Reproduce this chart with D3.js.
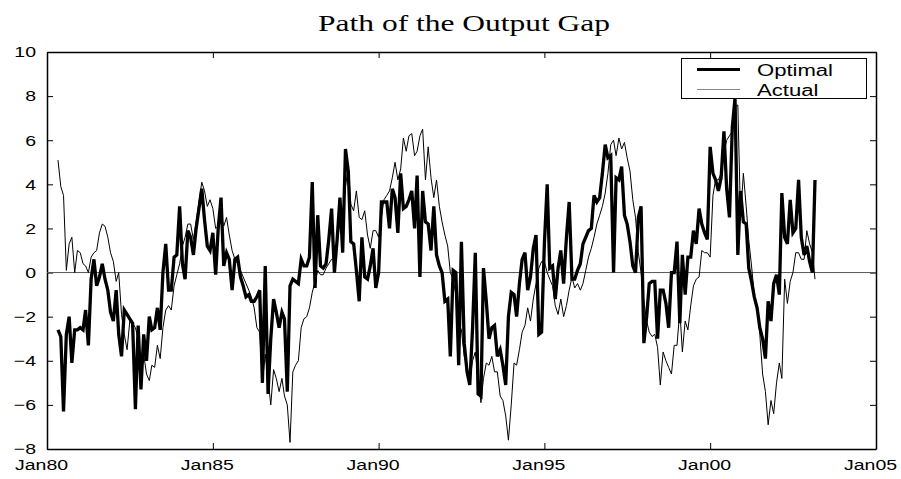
<!DOCTYPE html>
<html>
<head>
<meta charset="utf-8">
<script src="https://cdn.jsdelivr.net/npm/d3@7"></script>
<style>
  body { margin: 0; background: #fff; }
  #container { width: 901px; height: 479px; }
</style>
</head>
<body>
<div id="container"></div>
<script>
/* DATA (monthly, first value = May 1980) */
const firstMonth = "1980-05";

const optimal = [
  -2.6, -2.9, -6.3, -2.8, -2.0, -4.1, -2.6, -2.6,                 // 1980
  -2.5, -2.6, -1.7, -3.3, -0.3, 0.6, -0.6, -0.2, 0.4, -0.3, -0.8, -1.8, // 1981
  -2.2, -0.8, -2.8, -3.8, -1.7, -1.9, -2.1, -2.3, -6.2, -2.4, -5.3, -2.8, // 1982
  -4.0, -2.0, -2.6, -2.5, -1.6, -2.6, 0.0, 1.3, -0.8, -0.8, 0.7, 0.8,     // 1983
  3.0, 0.4, -0.3, 1.9, 1.6, 0.8, 2.0, 2.9, 3.8, 2.4, 1.2, 1.0,           // 1984
  1.8, -0.1, 2.0, 3.4, 0.3, 0.9, 0.6, -0.8, 0.6, 0.7, -0.2, -0.6,        // 1985
  -1.1, -1.0, -1.3, -1.3, -1.1, -0.8, -5.0, 0.3, -5.5, -3.0, -1.2, -1.8, // 1986
  -2.5, -1.8, -2.1, -5.4, -0.6, -0.3, -0.4, -0.5, 0.6, 0.3, 0.3, 0.7,    // 1987
  4.1, -0.7, 2.6, 0.3, 0.2, 0.4, 1.5, 2.9, 0.0, 1.5, 3.4, 0.9,           // 1988
  5.6, 4.6, 1.4, 1.3, 0.1, -1.3, 1.6, -0.2, -0.3, 0.3, 1.1, -0.7,        // 1989
  0.0, 3.2, 3.2, 3.2, 2.0, 3.8, 3.4, 1.8, 4.5, 2.9, 3.0, 3.3,            // 1990
  3.7, 2.0, 4.4, -0.2, 3.7, 2.3, 2.2, 1.0, 3.0, 0.8, 0.3, 0.0,           // 1991
  -1.3, -1.2, -3.8, 0.1, 0.0, -4.2, 1.4, -3.2, -4.5, -5.1, -2.5, 0.9,    // 1992
  -5.5, -5.6, 0.2, -1.3, -3.0, -2.5, -2.4, -3.8, -3.5, -4.2, -5.1, -2.0, // 1993
  -0.9, -1.0, -2.0, -0.5, 0.6, 0.9, -0.8, -0.2, 1.1, 1.7, -2.8, -2.7,    // 1994
  1.3, 4.0, 0.2, 0.3, -1.2, 0.2, 1.0, -0.5, 1.6, 3.2, -0.3, -0.3,        // 1995
  0.1, 0.4, 1.3, 1.6, 1.9, 2.0, 3.5, 3.2, 3.4, 4.5, 5.8, 5.2,            // 1996
  5.3, 0.0, 4.3, 4.2, 4.8, 2.6, 2.2, 1.4, 0.3, 0.0, 2.5, 3.0,            // 1997
  -3.2, -2.0, -0.5, -0.4, -0.4, -3.0, -0.8, -0.8, -1.4, -2.5, 0.0, 0.0,  // 1998
  1.4, -2.3, 0.8, -1.0, 0.7, 0.7, 1.9, 1.3, 2.9, 2.2, 1.8, 1.5,          // 1999
  5.7, 4.5, 4.2, 3.7, 4.3, 6.4, 3.8, 2.5, 6.6, 7.9, 0.8, 3.7,            // 2000
  2.3, 2.2, 0.2, -0.4, -1.1, -1.6, -2.5, -3.0, -3.9, -1.3, -2.2, -0.5,   // 2001
  -0.1, -1.0, 3.6, 1.6, 1.3, 3.3, 1.8, 2.0, 4.2, 1.6, 0.8, 1.2,          // 2002
  0.5, 0.0, 4.2                                                          // 2003
];

const actual = [
  5.1, 3.9, 3.5, 0.1, 1.3, 1.6, 0.0, 1.0,                                // 1980
  0.9, 0.4, 0.3, 0.0, 0.7, 0.9, 1.0, 1.8, 2.2, 2.1, 1.6, 0.9,            // 1981
  0.5, -0.4, 0.0, -1.9, -2.8, -3.5, -2.2, -2.3, -2.5, -3.0, -4.2, -3.7,  // 1982
  -4.6, -4.9, -4.2, -4.3, -3.3, -3.9, -2.5, -1.7, -1.5, -1.7, -0.6, -0.1, // 1983
  0.4, 1.2, 1.6, 2.2, 2.2, 1.5, 2.3, 3.2, 4.1, 3.7, 3.0, 3.3,            // 1984
  2.9, 2.0, 2.1, 2.6, 2.1, 2.5, 1.7, 1.0, 0.6, 0.4, 0.1, -0.2,           // 1985
  -0.5, -0.8, -1.1, -1.6, -2.5, -2.7, -5.0, -3.7, -4.8, -6.0, -4.4, -4.8, // 1986
  -5.4, -4.8, -5.6, -6.0, -7.7, -4.5, -4.2, -4.0, -2.5, -2.1, -2.0, -1.6, // 1987
  -0.9, -0.4, 0.1, -0.1, -0.1, 0.2, 0.4, 0.6, 0.6, 1.3, 2.3, 2.7,        // 1988
  3.9, 4.8, 3.1, 2.8, 3.7, 2.5, 2.4, 2.8, 1.7, 1.1, 1.9, 1.9,            // 1989
  1.6, 2.5, 3.3, 3.5, 3.7, 4.3, 5.0, 4.2, 4.7, 6.1, 5.5, 6.2,            // 1990
  6.3, 5.3, 5.5, 6.2, 6.5, 4.2, 5.7, 4.3, 3.4, 4.2, 3.0, 2.3,            // 1991
  1.7, 1.2, 0.0, -0.3, -1.0, -2.3, -2.6, -3.8, -4.3, -4.9, -4.0, -3.6,   // 1992
  -4.8, -5.9, -4.8, -4.1, -4.2, -3.8, -4.5, -4.5, -5.6, -5.8, -6.5, -7.6, // 1993
  -6.0, -4.1, -4.2, -3.5, -2.7, -2.4, -1.6, -2.2, -1.2, -0.5, 0.2, 0.5,  // 1994
  0.5, 0.0, -0.3, -0.6, -1.5, -1.9, -1.2, -2.0, -1.5, -0.8, -0.2, -0.7,  // 1995
  -0.5, -0.8, -0.5, 0.1, 0.7, 1.1, 1.6, 2.2, 2.6, 3.0, 3.6, 4.5,         // 1996
  5.8, 6.0, 5.3, 6.1, 5.6, 5.9, 5.2, 4.6, 3.3, 2.5, 0.9, 0.0,            // 1997
  -1.3, -2.2, -2.7, -2.9, -2.8, -3.4, -5.1, -3.6, -4.0, -4.3, -4.6, -3.3, // 1998
  -3.3, -1.7, -3.6, -2.2, -2.6, -1.5, -0.6, -0.3, -0.2, 1.0, 0.9, 0.9,   // 1999
  0.7, 3.5, 4.2, 4.2, 4.5, 5.4, 6.0, 6.2, 6.4, 7.5, 7.6, 2.5,            // 2000
  4.5, 3.0, 1.5, 0.3, -1.0, -1.5, -2.8, -4.6, -5.4, -6.9, -5.8, -6.4,    // 2001
  -5.0, -4.1, -4.8, -0.3, -1.4, -0.4, 0.0, 0.9, 0.9, 0.6, 0.6, 1.9,      // 2002
  1.3, 0.9, -0.3                                                         // 2003
];

const xTickYears = [1980, 1985, 1990, 1995, 2000, 2005];
const xTickLabels = ["Jan80", "Jan85", "Jan90", "Jan95", "Jan00", "Jan05"];
const yTickValues = [-8, -6, -4, -2, 0, 2, 4, 6, 8, 10];
const seriesNames = ["Optimal", "Actual"];

/* CONSTANTS */
const width = 901, height = 479;
const plot = { left: 47, right: 876, top: 52, bottom: 449 };
const sx = 1.3; // text in the figure is stretched sideways

const parseMonth = d3.timeParse("%Y-%m");
const start = parseMonth(firstMonth);
const dates = optimal.map((d, i) => d3.timeMonth.offset(start, i));
const tickDates = xTickYears.map(y => new Date(y, 0, 1));

const svg = d3.select("#container").append("svg")
  .attr("width", width)
  .attr("height", height);

/* SCALES */
const xScale = d3.scaleTime()
  .domain([tickDates[0], tickDates[tickDates.length - 1]])
  .range([plot.left, plot.right]);

const yScale = d3.scaleLinear()
  .domain([-8, 10])
  .range([plot.bottom, plot.top]);

/* AXES */
function styleAxis(g) {
  g.attr("font-family", "'Liberation Sans', Arial, sans-serif")
    .attr("font-size", 15);
  g.select(".domain").attr("stroke", "#000").attr("stroke-width", 1.5);
  g.selectAll(".tick line").attr("stroke", "#000").attr("stroke-width", 1);
  g.selectAll(".tick text").attr("fill", "#000");
}

svg.append("g")
  .attr("transform", `translate(0,${plot.bottom})`)
  .call(d3.axisBottom(xScale).tickValues(tickDates).tickSize(-6).tickSizeOuter(0)
    .tickPadding(10).tickFormat((d, i) => xTickLabels[i]))
  .call(styleAxis)
  .call(g => g.selectAll(".tick text")
    .attr("x", -6 / sx)
    .attr("transform", `scale(${sx},1)`));

svg.append("g")
  .attr("transform", `translate(0,${plot.top})`)
  .call(d3.axisTop(xScale).tickValues(tickDates).tickSize(-6).tickSizeOuter(0).tickFormat(""))
  .call(styleAxis);

svg.append("g")
  .attr("transform", `translate(${plot.left},0)`)
  .call(d3.axisLeft(yScale).tickValues(yTickValues).tickSize(-6).tickSizeOuter(0)
    .tickPadding(11 / sx))
  .call(styleAxis)
  .call(g => g.selectAll(".tick text")
    .attr("transform", `scale(${sx},1)`));

svg.append("g")
  .attr("transform", `translate(${plot.right},0)`)
  .call(d3.axisRight(yScale).tickValues(yTickValues).tickSize(-6).tickSizeOuter(0).tickFormat(""))
  .call(styleAxis);

/* ZERO LINE */
svg.append("line")
  .attr("x1", plot.left).attr("x2", plot.right)
  .attr("y1", yScale(0)).attr("y2", yScale(0))
  .attr("stroke", "#555")
  .attr("stroke-width", 1);

/* LINES */
const line = d3.line()
  .x((d, i) => xScale(dates[i]))
  .y(d => yScale(d));

svg.append("path")
  .datum(optimal)
  .attr("fill", "none")
  .attr("stroke", "#000")
  .attr("stroke-width", 3.3)
  .attr("d", line);

svg.append("path")
  .datum(actual)
  .attr("fill", "none")
  .attr("stroke", "#000")
  .attr("stroke-width", 1)
  .attr("d", line);

/* TITLE */
const title = svg.append("text")
  .attr("font-family", "'Liberation Serif', 'Times New Roman', serif")
  .attr("font-size", 24)
  .attr("text-anchor", "middle")
  .text("Path of the Output Gap");
const tw = title.node().getComputedTextLength();
title.attr("transform", `translate(464,31) scale(${292 / tw},1)`);

/* LEGEND */
const legend = svg.append("g");
legend.append("rect")
  .attr("x", 681.5).attr("y", 58.5)
  .attr("width", 185).attr("height", 40)
  .attr("fill", "#fff")
  .attr("stroke", "#000")
  .attr("stroke-width", 1);

seriesNames.forEach((name, i) => {
  const ly = 69.5 + i * 20;
  legend.append("line")
    .attr("x1", 697).attr("x2", 740)
    .attr("y1", ly).attr("y2", ly)
    .attr("stroke", i === 0 ? "#000" : "#888")
    .attr("stroke-width", i === 0 ? 3 : 1);
  legend.append("text")
    .attr("transform", `translate(757,${ly + 6}) scale(1.38,1)`)
    .attr("font-family", "'Liberation Sans', Arial, sans-serif")
    .attr("font-size", 16)
    .text(name);
});
</script>
</body>
</html>
